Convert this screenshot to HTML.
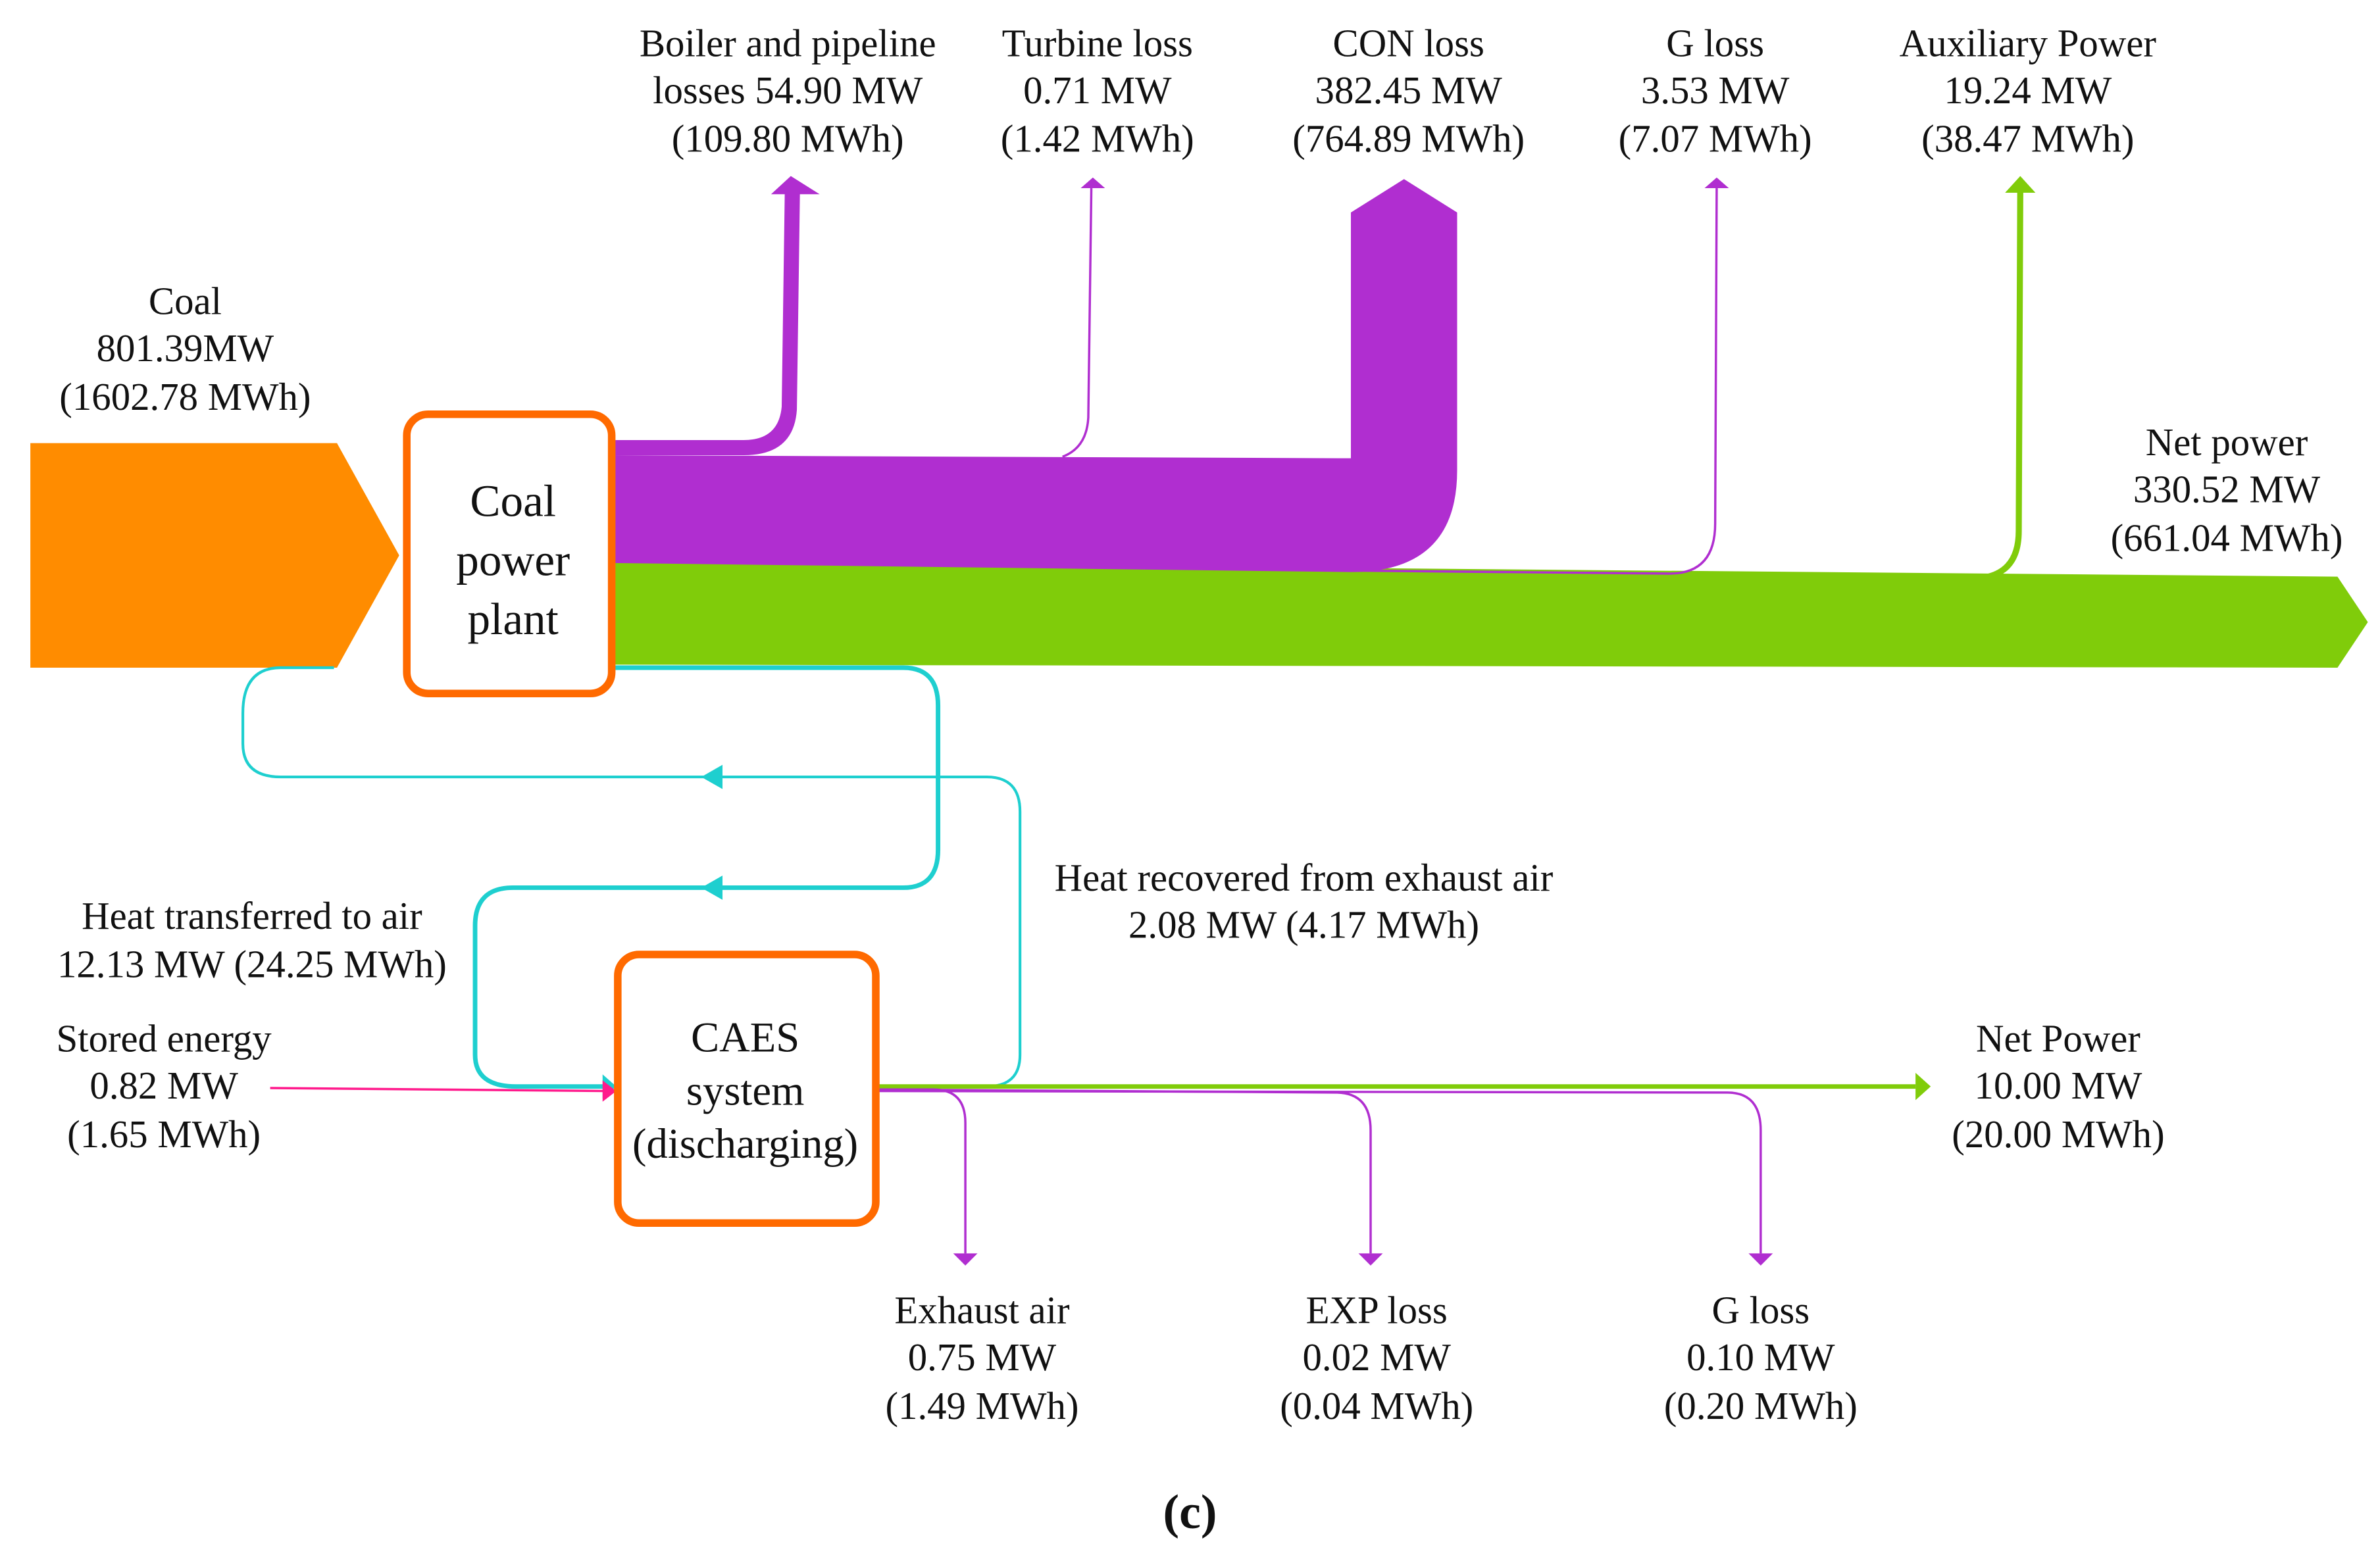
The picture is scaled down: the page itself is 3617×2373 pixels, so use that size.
<!DOCTYPE html>
<html><head><meta charset="utf-8"><style>
html,body{margin:0;padding:0;background:#fff;}
svg{display:block;}
text{font-family:"Liberation Serif",serif;fill:#111;}
</style></head><body>
<svg width="3617" height="2373" viewBox="0 0 1568 1028.7" xmlns="http://www.w3.org/2000/svg">
<!-- Coal arrow -->
<polygon points="20,292 222,292 263,366 222,440 20,440" fill="#ff8c00"/>
<!-- Green main band -->
<polygon points="403,370 1540,380 1560,410 1540,440 403,438" fill="#80cc0a"/>
<!-- purple main band -->
<path d="M403,290 L490,290 Q513,290 515,268 L517,128 L508,128 L521,116 L540,128 L527,128 L525,270 Q523,300 490,300 L403,300 Z" fill="#b02ed0"/>
<path d="M403,300 L890,302 L890,140 L925,118 L960,140 L960,310 Q960,377 890,377 L403,371 Z" fill="#b02ed0"/>
<!-- turbine loss -->
<path d="M700,301 Q716,295 717,275 L719,124" stroke="#b02ed0" stroke-width="1.5" fill="none"/>
<polygon points="712,124 720,117 728,124" fill="#b02ed0"/>
<!-- G loss -->
<path d="M890,376 L1100,378 Q1130,378 1130,345 L1131,124" stroke="#b02ed0" stroke-width="1.5" fill="none"/>
<polygon points="1123,124 1131,117 1139,124" fill="#b02ed0"/>
<!-- Aux -->
<path d="M1310,380 Q1330,375 1330,350 L1331,126" stroke="#80cc0a" stroke-width="4" fill="none"/>
<polygon points="1321,127 1331,116 1341,127" fill="#80cc0a"/>
<!-- cyan thin -->
<path d="M220,440 L185,440 Q160,440 160,470 L160,490 Q160,512 185,512 L650,512 Q672,512 672,535 L672,695 Q672,716 650,716 L577,716" stroke="#1ecfcf" stroke-width="1.8" fill="none"/>
<polygon points="462,512 476,504 476,520" fill="#1ecfcf"/>
<!-- cyan thick -->
<path d="M403,440 L595,440 Q618,440 618,465 L618,560 Q618,585 595,585 L338,585 Q313,585 313,610 L313,695 Q313,716 340,716 L400,716" stroke="#1ecfcf" stroke-width="3" fill="none"/>
<polygon points="462,585 476,577 476,593" fill="#1ecfcf"/>
<polygon points="397,708 406,716 397,724" fill="#1ecfcf"/>
<!-- stored energy -->
<path d="M178,717 L400,719" stroke="#ff1a8c" stroke-width="1.5" fill="none"/>
<polygon points="397,712 406,719 397,726" fill="#ff1a8c"/>
<!-- green net -->
<path d="M577,716 L1262,716" stroke="#80cc0a" stroke-width="3" fill="none"/>
<polygon points="1262,707 1272,716 1262,725" fill="#80cc0a"/>
<!-- purple losses -->
<path d="M577,718 L615,718 Q636,718 636,740 L636,826" stroke="#b02ed0" stroke-width="1.5" fill="none"/>
<polygon points="628,826 636,834 644,826" fill="#b02ed0"/>
<path d="M577,718 L880,720 Q903,720 903,745 L903,826" stroke="#b02ed0" stroke-width="1.5" fill="none"/>
<polygon points="895,826 903,834 911,826" fill="#b02ed0"/>
<path d="M577,719 L1138,720 Q1160,720 1160,745 L1160,826" stroke="#b02ed0" stroke-width="1.5" fill="none"/>
<polygon points="1152,826 1160,834 1168,826" fill="#b02ed0"/>
<!-- boxes -->
<rect x="268" y="273" width="135" height="184" rx="14" fill="#fff" stroke="#ff6a00" stroke-width="5"/>
<text x="338" y="340" font-size="30" text-anchor="middle">Coal</text>
<text x="338" y="379" font-size="30" text-anchor="middle">power</text>
<text x="338" y="418" font-size="30" text-anchor="middle">plant</text>
<rect x="407" y="629" width="170" height="177" rx="14" fill="#fff" stroke="#ff6a00" stroke-width="5"/>
<text x="491" y="693" font-size="28" text-anchor="middle">CAES</text>
<text x="491" y="728" font-size="28" text-anchor="middle">system</text>
<text x="491" y="763" font-size="28" text-anchor="middle">(discharging)</text>
<!-- labels -->
<g font-size="25.5" text-anchor="middle">
<text x="122" y="207">Coal</text><text x="122" y="238">801.39MW</text><text x="122" y="270">(1602.78 MWh)</text>
<text x="519" y="37">Boiler and pipeline</text><text x="519" y="68">losses 54.90 MW</text><text x="519" y="100">(109.80 MWh)</text>
<text x="723" y="37">Turbine loss</text><text x="723" y="68">0.71 MW</text><text x="723" y="100">(1.42 MWh)</text>
<text x="928" y="37">CON loss</text><text x="928" y="68">382.45 MW</text><text x="928" y="100">(764.89 MWh)</text>
<text x="1130" y="37">G loss</text><text x="1130" y="68">3.53 MW</text><text x="1130" y="100">(7.07 MWh)</text>
<text x="1336" y="37">Auxiliary Power</text><text x="1336" y="68">19.24 MW</text><text x="1336" y="100">(38.47 MWh)</text>
<text x="1467" y="300">Net power</text><text x="1467" y="331">330.52 MW</text><text x="1467" y="363">(661.04 MWh)</text>
<text x="166" y="612">Heat transferred to air</text><text x="166" y="644">12.13 MW (24.25 MWh)</text>
<text x="859" y="587">Heat recovered from exhaust air</text><text x="859" y="618">2.08 MW (4.17 MWh)</text>
<text x="108" y="693">Stored energy</text><text x="108" y="724">0.82 MW</text><text x="108" y="756">(1.65 MWh)</text>
<text x="1356" y="693">Net Power</text><text x="1356" y="724">10.00 MW</text><text x="1356" y="756">(20.00 MWh)</text>
<text x="647" y="872">Exhaust  air</text><text x="647" y="903">0.75 MW</text><text x="647" y="935">(1.49 MWh)</text>
<text x="907" y="872">EXP loss</text><text x="907" y="903">0.02 MW</text><text x="907" y="935">(0.04 MWh)</text>
<text x="1160" y="872">G loss</text><text x="1160" y="903">0.10 MW</text><text x="1160" y="935">(0.20 MWh)</text>
</g>
<text x="784" y="1007" font-size="32" text-anchor="middle" font-weight="bold">(c)</text>
</svg>
</body></html>
